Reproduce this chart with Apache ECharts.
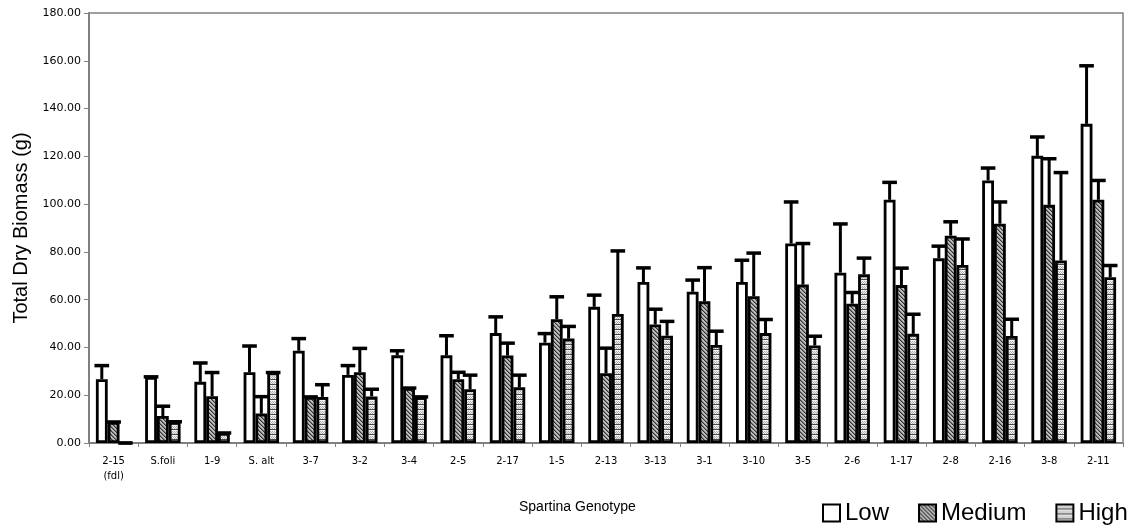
<!DOCTYPE html>
<html>
<head>
<meta charset="utf-8">
<script src="https://cdn.jsdelivr.net/npm/echarts@6/dist/echarts.min.js"></script>
<style>
html,body{margin:0;padding:0;background:#fff;}
#chart{width:1133px;height:529px;}
</style>
</head>
<body>
<div id="chart"></div>
<script>
// ---- data ----
const categories = ['2-15\n(fdl)','S.foli','1-9','S. alt','3-7','3-2','3-4','2-5','2-17','1-5','2-13','3-13','3-1','3-10','3-5','2-6','1-17','2-8','2-16','3-8','2-11'];
const lowValues    = [26.7,27.7,25.6,29.6,38.6,28.5,36.7,36.7,46.0,42.0,57.0,67.4,63.3,67.4,83.5,71.3,101.8,77.3,109.9,120.2,133.6];
const lowErrors    = [5.7,0,7.9,11.0,5.1,3.9,1.9,8.2,6.8,3.8,4.9,5.9,4.9,9.1,17.4,20.4,7.3,5.1,5.2,7.9,24.3];
const mediumValues = [8.8,11.3,19.6,12.3,19.3,29.6,23.0,26.7,36.6,51.8,29.2,49.6,59.3,61.4,66.3,58.3,66.1,86.8,91.8,99.7,101.8];
const mediumErrors = [0,4.1,9.9,7.1,0,10.0,0,2.9,5.2,9.4,10.5,6.4,14.1,18.1,17.2,4.7,7.1,5.8,9.1,19.3,8.1];
const highValues   = [0,8.9,4.2,29.5,19.3,19.5,19.3,22.5,23.3,43.7,54.0,44.9,41.0,46.0,40.8,70.6,45.7,74.5,44.8,76.4,69.4];
const highErrors   = [0,0,0,0,5.1,3.0,0,5.9,5.1,5.1,26.4,6.0,5.8,5.7,3.9,6.8,8.2,10.9,7.0,36.8,4.9];
const seriesNames = ['Low','Medium','High'];

// ---- patterns ----
function mediumPattern(){
  const c = document.createElement('canvas'); c.width = 4; c.height = 4;
  const g = c.getContext('2d');
  g.fillStyle = '#bdbdbd'; g.fillRect(0,0,4,4);
  g.fillStyle = '#333333';
  for(let i=0;i<4;i++){ g.fillRect(i,i,1,1); }
  g.fillStyle = '#7a7a7a';
  for(let i=0;i<4;i++){ g.fillRect((i+1)%4,i,1,1); }
  return c;
}
function highPattern(){
  const c = document.createElement('canvas'); c.width = 4; c.height = 5;
  const g = c.getContext('2d');
  g.fillStyle = '#f2f2f2'; g.fillRect(0,0,4,5);
  g.fillStyle = '#b0b0b0';
  g.fillRect(0,1,1,1); g.fillRect(2,1,1,1); g.fillRect(1,2,1,1); g.fillRect(3,2,1,1);g.fillRect(0,3,1,1); g.fillRect(2,3,1,1);
  g.fillStyle = '#4a4a4a'; g.fillRect(0,4,4,1);
  return c;
}
const fills = ['#ffffff', {image: mediumPattern(), repeat:'repeat'}, {image: highPattern(), repeat:'repeat'}];
const valuesArr = [lowValues, mediumValues, highValues];
const errorsArr = [lowErrors, mediumErrors, highErrors];
const BAR_FRAC = 0.24;

const series = [];
seriesNames.forEach((n,k)=>{
  series.push({
    name: n, type: 'bar', barWidth: (BAR_FRAC*100)+'%', barGap: '0%',
    data: valuesArr[k],
    itemStyle: {color: fills[k], borderColor:'#000', borderWidth:2.8},
    emphasis: {disabled:true}, silent:true, z:2
  });
});
seriesNames.forEach((n,k)=>{
  series.push({
    name: 'err'+n, type: 'custom', z: 3, silent: true,
    data: valuesArr[k].map((v,i)=>[i, v, errorsArr[k][i]]),
    renderItem: function(params, api){
      const ci = api.value(0), v = api.value(1), e = api.value(2);
      const base = api.coord([ci, v]);
      const top = api.coord([ci, v + e]);
      const bw = api.size([1,0])[0] * BAR_FRAC;
      const x = base[0] + (k-1)*bw;
      return {type:'group', children:[
        {type:'line', shape:{x1:x, y1:base[1], x2:x, y2:top[1]}, style:{stroke:'#000', lineWidth:3}},
        {type:'line', shape:{x1:x-bw*0.62, y1:top[1], x2:x+bw*0.62, y2:top[1]}, style:{stroke:'#000', lineWidth:3.5}}
      ]};
    }
  });
});

const chart = echarts.init(document.getElementById('chart'), null, {renderer:'canvas'});
chart.setOption({
  animation: false,
  backgroundColor: '#fff',
  textStyle: {fontFamily: 'Liberation Sans, Arial, sans-serif'},
  grid: {left: 89, right: 10, top: 13, bottom: 86, show: true, borderColor: '#808080', borderWidth: 1.5, backgroundColor: 'transparent'},
  legend: {
    data: seriesNames, left: 822, top: 501, width: 330, padding: 0,
    itemWidth: 17, itemHeight: 17, itemGap: 29,
    icon: 'rect',
    itemStyle: {borderColor:'#000', borderWidth: 2},
    textStyle: {fontSize: 24, color:'#000', fontFamily:'Liberation Sans, Arial, sans-serif'}
  },
  xAxis: {
    type: 'category', data: categories,
    axisLine: {lineStyle: {color:'#808080', width: 2}},
    axisTick: {show: true, length: 4, lineStyle:{color:'#808080'}},
    axisLabel: {fontSize: 10, color:'#000', margin: 11, lineHeight: 15, interval: 0, fontFamily:'DejaVu Sans, sans-serif'}
  },
  yAxis: {
    type: 'value', min: 0, max: 180, interval: 20,
    name: 'Total Dry Biomass (g)', nameLocation: 'middle', nameGap: 56,
    nameTextStyle: {fontSize: 20, color:'#000', fontFamily:'Liberation Sans, Arial, sans-serif'},
    axisLine: {show: true, lineStyle: {color:'#808080', width: 2}},
    axisTick: {show: true, length: 5, lineStyle:{color:'#808080'}},
    splitLine: {show: false},
    axisLabel: {fontSize: 11, color:'#000', margin: 8, fontFamily:'DejaVu Sans, sans-serif', formatter: v => v.toFixed(2)}
  },
  graphic: [{
    type: 'text', left: 519, top: 500,
    style: {text: 'Spartina Genotype', fontSize: 14, fill: '#000', fontFamily: 'Liberation Sans, Arial, sans-serif'}
  }],
  series: series
});
</script>
</body>
</html>
